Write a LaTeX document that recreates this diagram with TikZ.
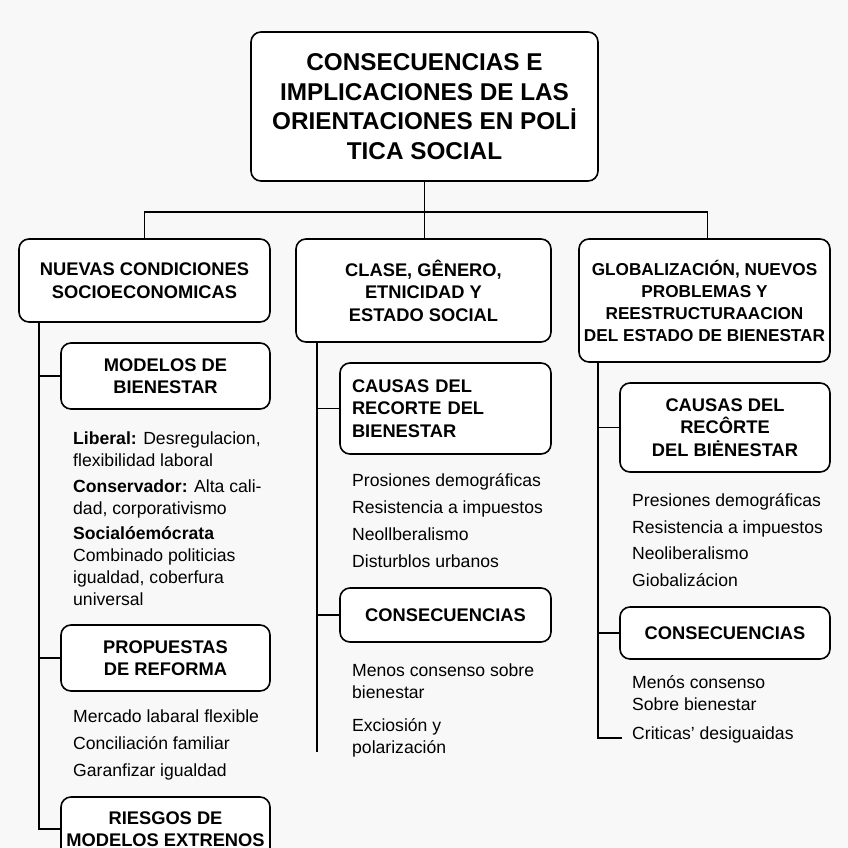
\documentclass[tikz,border=0pt]{standalone}
\usepackage{fontspec}
\setmainfont{Liberation Sans}
\usepackage{xcolor}
\usetikzlibrary{positioning,calc}
\definecolor{bgcol}{HTML}{F8F8F8}

\begin{document}
\begin{tikzpicture}[x=1pt, y=-1pt,
  box/.style={draw, line width=1.6pt, rounded corners=10pt, fill=white, align=center, inner xsep=3pt, font=\fontsize{18.3}{22.5}\selectfont\bfseries},
  title/.style={box, font=\fontsize{24.3}{29.5}\selectfont\bfseries},
  items/.style={anchor=west, align=left, inner sep=0pt, font=\fontsize{17.6}{22}\selectfont},
  link/.style={line width=1.6pt}
]
  \fill[bgcol] (0,0) rectangle (848,848);
  \useasboundingbox (0,0) rectangle (848,848);
  \clip (0,0) rectangle (848,848);

  \node[title, minimum width=347pt, minimum height=149pt] (top) at (424.5,106.5) {CONSECUENCIAS E\\IMPLICACIONES DE LAS\\ORIENTACIONES EN POLİ\\TICA SOCIAL};

  % three branches
  \node[box, minimum width=251pt, minimum height=83pt] (nc) at (144.5,280.5) {NUEVAS CONDICIONES\\SOCIOECONOMICAS};
  \node[box, minimum width=255pt, minimum height=103pt] (cg) at (423.5,290.5) {CLASE, GÊNERO,\\ETNICIDAD Y\\ESTADO SOCIAL};
  \node[box, minimum width=251pt, minimum height=123pt, inner xsep=1pt, font=\fontsize{17.2}{22}\selectfont\bfseries] (gl) at (704.5,300.5) {GLOBALIZACIÓN, NUEVOS\\PROBLEMAS Y\\REESTRUCTURAACION\\DEL ESTADO DE BIENESTAR};

  \coordinate (hub) at (424.5,212);
  \draw[link] (top) -- (hub);
  \draw[link] (hub) -| (nc.north);
  \draw[link] (hub) -| ([xshift=3pt]gl.north);
  \draw[link] (hub) -- (hub |- cg.north);

  % left column
  \node[box, minimum width=209pt, minimum height=66pt] (mb) at (165.5,376) {MODELOS DE\\BIENESTAR};
  \node[items] (mbt) at (73,518.5) {\textbf{Liberal:} Desregulacion,\\flexibilidad laboral\\[4pt]
    \textbf{Conservador:} Alta cali-\\dad, corporativismo\\[3pt]
    \textbf{Socialóemócrata}\\Combinado politicias\\igualdad, coberfura\\universal};
  \node[box, minimum width=209pt, minimum height=66pt] (pr) at (165.5,658) {PROPUESTAS\\DE REFORMA};
  \node[items, font=\fontsize{17.6}{27}\selectfont] (prt) at (73,745) {Mercado labaral flexible\\Conciliación familiar\\Garanfizar igualdad};
  \node[box, minimum width=209pt, minimum height=64pt] (rg) at (165.5,829) {RIESGOS DE\\MODELOS EXTRENOS};

  \coordinate (lsp) at (39,0);
  \draw[link] (nc.south -| lsp) |- (mb.west);
  \draw[link] (nc.south -| lsp) |- (pr.west);
  \draw[link] (nc.south -| lsp) |- (rg.west);

  % middle column
  \node[box, minimum width=211pt, minimum height=91pt, text width=187pt, inner xsep=12pt, align=left] (cm) at (445.5,408.5) {CAUSAS DEL\\RECORTE DEL\\BIENESTAR};
  \node[items, font=\fontsize{17.6}{27}\selectfont] (cmt) at (352,520.5) {Prosiones demográficas\\Resistencia a impuestos\\Neollberalismo\\Disturblos urbanos};
  \node[box, minimum width=211pt, minimum height=54pt] (sm) at (445.5,615) {CONSECUENCIAS};
  \node[items] (smt1) at (352,681) {Menos consenso sobre\\bienestar};
  \node[items] (smt2) at (352,738) {Exciosión y\\polarización};

  \coordinate (msp) at (317,752);
  \draw[link] (cg.south -| msp) |- (cm.west);
  \draw[link] (cg.south -| msp) |- (sm.west);
  \draw[link] (cg.south -| msp) -- (msp);

  % right column
  \node[box, minimum width=210pt, minimum height=89pt] (cr) at (725,427.5) {CAUSAS DEL\\RECÔRTE\\DEL BIĖNESTAR};
  \node[items, font=\fontsize{17.6}{26.7}\selectfont] (crt) at (632,540) {Presiones demográficas\\Resistencia a impuestos\\Neoliberalismo\\Giobalizácion};
  \node[box, minimum width=210pt, minimum height=52pt] (sr) at (725,633) {CONSECUENCIAS};
  \node[items] (srt) at (632,693.5) {Menós consenso\\Sobre bienestar};
  \node[items] (crit) at (632,735) {Criticas’ desiguaidas};

  \coordinate (rsp) at (598,0);
  \draw[link] (gl.south -| rsp) |- (cr.west);
  \draw[link] (gl.south -| rsp) |- (sr.west);
  \draw[link] (gl.south -| rsp) |- ([xshift=-10pt,yshift=-3pt]crit.west);
\end{tikzpicture}
\end{document}
